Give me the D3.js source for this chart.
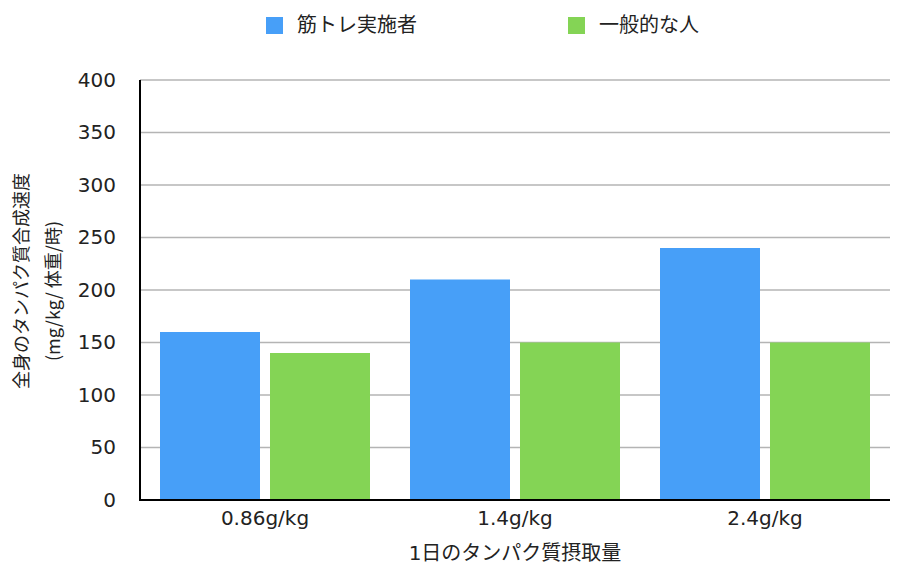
<!DOCTYPE html>
<html><head><meta charset="utf-8">
<script src="https://cdn.jsdelivr.net/npm/d3@7"></script>
<style>body{margin:0;background:#fff}svg{display:block}text{font-family:"DejaVu Sans","Noto Sans CJK JP",sans-serif;fill:#222}</style>
</head><body>
<script>
const categories = ["0.86g/kg", "1.4g/kg", "2.4g/kg"];
const seriesNames = ["筋トレ実施者", "一般的な人"];
const trainees = [160, 210, 240];
const general = [140, 150, 150];
const yTicks = [0, 50, 100, 150, 200, 250, 300, 350, 400];
const colors = ["#479ff8", "#84d455"];

const W = 905, H = 566;
const m = {l:140, r:15, t:80, b:66};
const svg = d3.select("body").append("svg").attr("width", W).attr("height", H);
const x = d3.scaleBand().domain(categories).range([m.l, W - m.r]).padding(0);
const x1 = d3.scaleBand().domain(seriesNames).range([20, x.bandwidth() - 20]).paddingInner(1 / 11);
const y = d3.scaleLinear().domain([0, 400]).range([H - m.b, m.t]);

// grid
svg.append("g").selectAll("line").data(yTicks.filter(d => d > 0)).join("line")
  .attr("x1", m.l).attr("x2", W - m.r).attr("y1", d => y(d)).attr("y2", d => y(d))
  .attr("stroke", "#b4b4b4").attr("stroke-width", 1.5);

// bars
const data = categories.map((c, i) => ({c, vals: [trainees[i], general[i]]}));
svg.append("g").selectAll("g").data(data).join("g")
  .attr("transform", d => `translate(${x(d.c)},0)`)
  .selectAll("rect").data(d => d.vals.map((v, j) => ({s: seriesNames[j], v, j}))).join("rect")
  .attr("x", d => x1(d.s)).attr("width", x1.bandwidth())
  .attr("y", d => y(d.v)).attr("height", d => y(0) - y(d.v))
  .attr("fill", d => colors[d.j]);

// y axis
const ya = svg.append("g").attr("transform", `translate(${m.l},0)`)
  .call(d3.axisLeft(y).tickValues(yTicks).tickSize(0).tickPadding(24));
ya.select(".domain").remove();
ya.selectAll("text").style("font-size", "20px").attr("fill", "#222").style("font-family", "'DejaVu Sans',sans-serif");
svg.append("line").attr("x1", m.l).attr("x2", m.l).attr("y1", y(400)).attr("y2", y(0) + 1).attr("stroke", "#000").attr("stroke-width", 2);

// x axis
const xa = svg.append("g").attr("transform", `translate(0,${y(0)})`)
  .call(d3.axisBottom(x).tickSize(0).tickPadding(11));
xa.select(".domain").remove();
xa.selectAll("text").style("font-size", "20px").attr("fill", "#222").style("font-family", "'DejaVu Sans',sans-serif");
svg.append("line").attr("x1", m.l - 1).attr("x2", W - m.r).attr("y1", y(0)).attr("y2", y(0)).attr("stroke", "#000").attr("stroke-width", 2);

// axis titles
svg.append("text").attr("x", (m.l + W - m.r) / 2).attr("y", 560).attr("text-anchor", "middle")
  .style("font-size", "20px").text("1日のタンパク質摂取量");
svg.append("text").attr("transform", `translate(0,281) rotate(-90)`)
  .attr("text-anchor", "middle").attr("x", 0).attr("y", 28).style("font-size", "18px")
  .style("font-family", "'Noto Sans CJK JP',sans-serif").text("全身のタンパク質合成速度");
svg.append("text").attr("transform", `translate(0,291) rotate(-90)`)
  .attr("text-anchor", "middle").attr("x", 0).attr("y", 60).style("font-size", "18px")
  .style("font-family", "'Noto Sans CJK JP',sans-serif").text("(mg/kg/ 体重/時)");

// legend
const lx = [266, 568];
const lg = svg.append("g").selectAll("g").data(seriesNames).join("g")
  .attr("transform", (d, i) => `translate(${lx[i]},17)`);
lg.append("rect").attr("width", 17).attr("height", 17).attr("fill", (d, i) => colors[i]);
lg.append("text").attr("x", 31).attr("y", 15).style("font-size", "20px")
  .style("font-family", "'Noto Sans CJK JP',sans-serif").text(d => d);
</script>
</body></html>
